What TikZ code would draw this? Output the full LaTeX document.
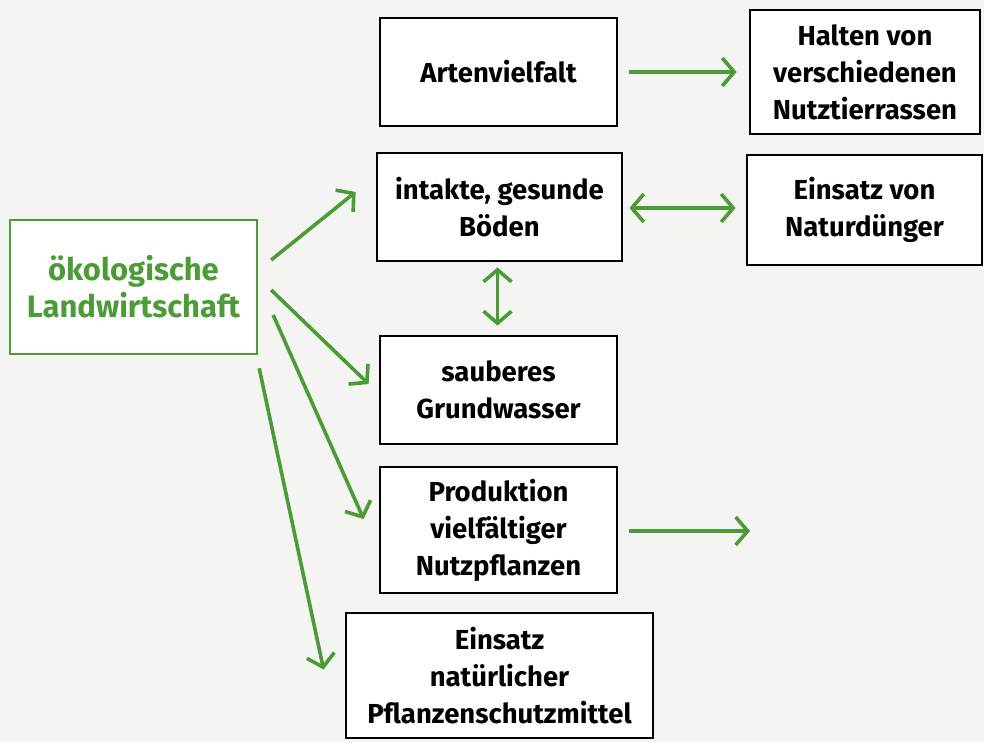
\documentclass[tikz,border=0pt]{standalone}
\usepackage{fontspec}
\setmainfont{Fira Sans}
\usetikzlibrary{arrows.meta,calc}

\definecolor{paper}{HTML}{F4F4F3}
\definecolor{oekogreen}{HTML}{4B9B36}
\tikzstyle{box}=[draw=black, fill=white, line width=2.8pt, align=center,
  font=\fontsize{27.5}{37}\selectfont\bfseries, inner sep=0pt]
\tikzstyle{mainbox}=[box, draw=oekogreen, text=oekogreen, line width=2.4pt,
  font=\fontsize{31}{37}\selectfont\bfseries]
\tikzstyle{link}=[draw=oekogreen, line width=3.6pt,
  -{Straight Barb[length=12pt,width=28pt,line width=3.6pt]}]
\tikzstyle{twoway}=[link, {Straight Barb[length=12pt,width=28pt,line width=3.6pt]}-{Straight Barb[length=12pt,width=28pt,line width=3.6pt]}]

\begin{document}
\begin{tikzpicture}[x=1pt,y=-1pt]
      \fill[paper] (0,0) rectangle (984,742);
      \useasboundingbox (0,0) rectangle (984,742);

      % boxes
      \node (oeko) at (133.5, 287)
            [mainbox, minimum width=247pt, minimum height=134pt] {ökologische\\Landwirtschaft};
      \node (arten) at (498.5, 72)
            [box, minimum width=237pt, minimum height=108pt] {Artenvielfalt};
      \node (halten) at (865, 72)
            [box, minimum width=230pt, minimum height=124pt] {Halten von\\verschiedenen\\Nutztierrassen};
      \node (boeden) at (499.5, 207)
            [box, minimum width=245pt, minimum height=108pt] {intakte, gesunde\\Böden};
      \node (duenger) at (864.5, 210)
            [box, minimum width=235pt, minimum height=110pt] {Einsatz von\\Naturdünger};
      \node (wasser) at (498.5, 390)
            [box, minimum width=237pt, minimum height=108pt] {sauberes\\Grundwasser};
      \node (produktion) at (498.5, 530)
            [box, minimum width=237pt, minimum height=126pt] {Produktion\\vielfältiger\\Nutzpflanzen};
      \node (schutz) at (499.5, 675.5)
            [box, minimum width=307pt, minimum height=125pt] {Einsatz\\natürlicher\\Pflanzenschutzmittel};
      \coordinate (leer) at (750, 531);

      % arrows
      \draw[link] ($(oeko.east)+(13,-27)$) -- ($(boeden.west)+(-20,-15)$);
      \draw[link] ($(oeko.east)+(13,3)$) -- ($(wasser.west)+(-10,-6)$);
      \draw[link] ($(oeko.east)+(15,28)$) -- ($(produktion.west)+(-15,-11)$);
      \draw[link] ($(oeko.south east)+(1,13)$) -- ($(schutz.west)+(-21,-6)$);
      \draw[link] ($(arten.east)+(11,0)$) -- ($(halten.west)+(-12,0)$);
      \draw[twoway] ($(boeden.east)+(6,1)$) -- ($(duenger.west)+(-10,-2)$);
      \draw[twoway] ($(boeden.south)+(-2,5)$) -- ($(wasser.north)+(-1,-9)$);
      \draw[link] ($(produktion.east)+(11,1)$) -- (leer);
\end{tikzpicture}
\end{document}
